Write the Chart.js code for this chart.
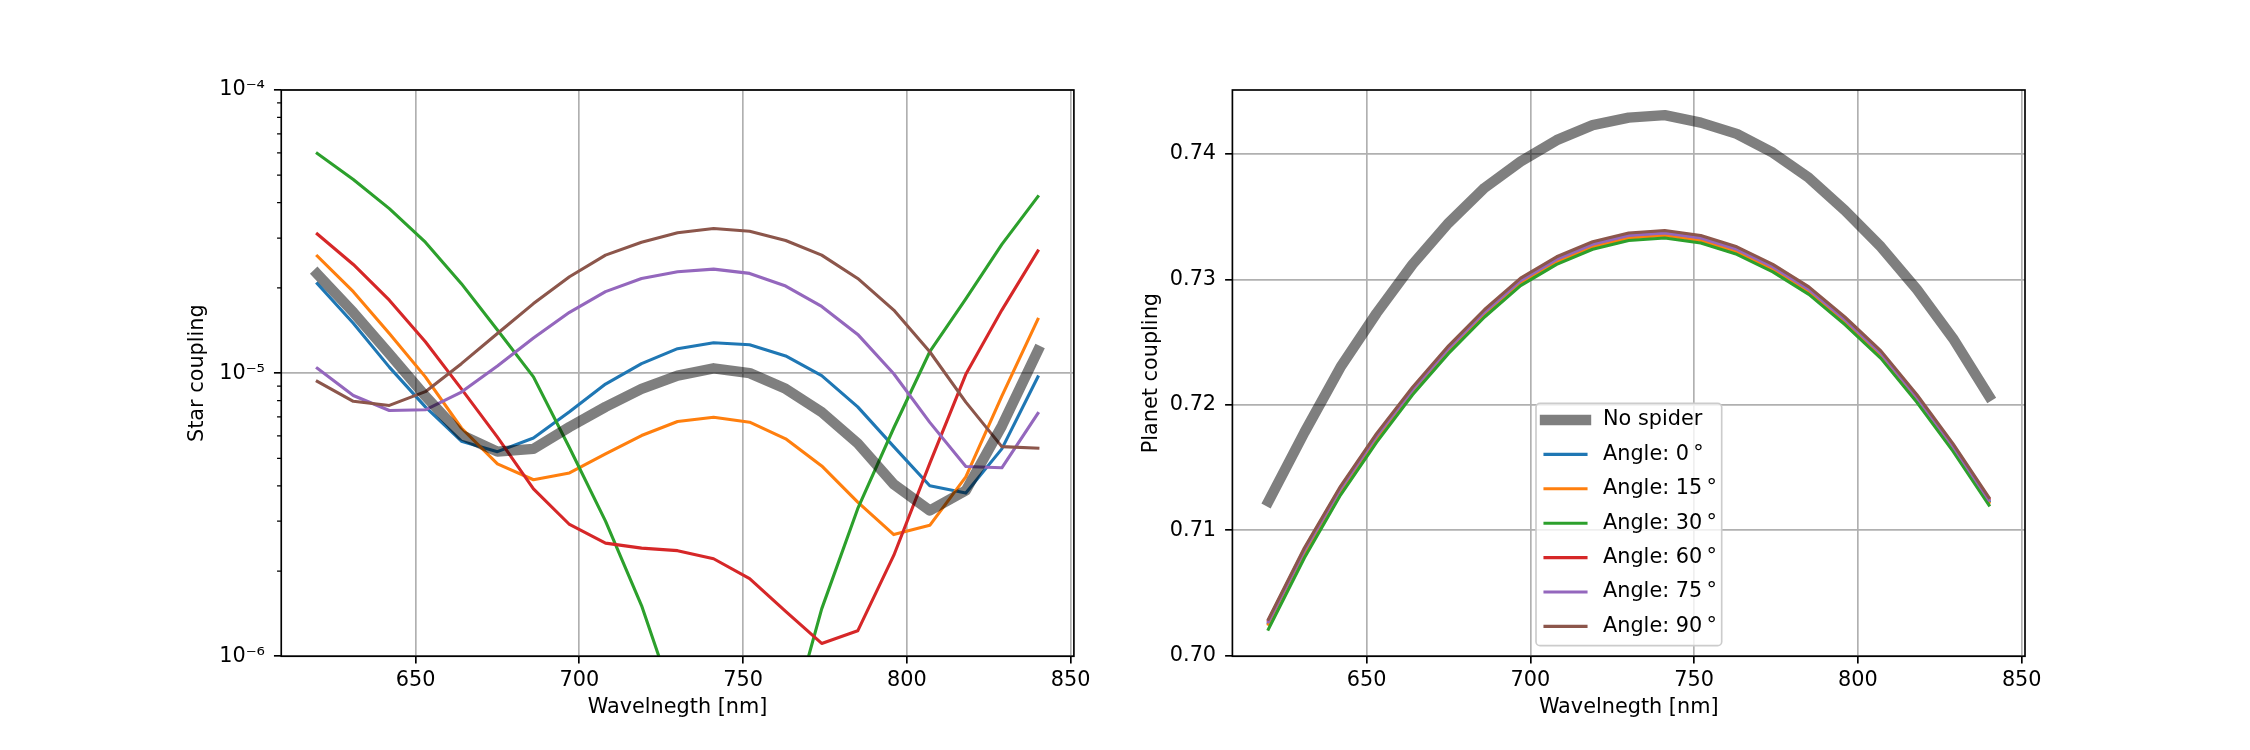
<!DOCTYPE html>
<html>
<head>
<meta charset="utf-8">
<title>Star and planet coupling</title>
<script src="https://cdn.jsdelivr.net/npm/chart.js@4.4.1/dist/chart.umd.min.js"></script>
<style>
    html, body { margin: 0; padding: 0; background: #ffffff; }
    body { width: 2250px; height: 750px; position: relative; overflow: hidden; }
    canvas { position: absolute; top: 0; }
    #starChart { left: 0; width: 1100px; height: 750px; }
    #planetChart { left: 1100px; width: 1150px; height: 750px; }
</style>
</head>
<body>
<canvas id="starChart" width="1100" height="750"></canvas>
<canvas id="planetChart" width="1150" height="750"></canvas>
<script>
// Wavelength grid shared by both panels (nm)
const wavelength = [620, 631, 642, 653, 664, 675, 686, 697, 708, 719, 730, 741, 752, 763, 774, 785, 796, 807, 818, 829, 840];

// Star coupling (left panel, log scale)
const starNoSpider = [2.24e-5, 1.64e-5, 1.17e-5, 8.3e-6, 6.05e-6, 5.28e-6, 5.4e-6, 6.45e-6, 7.6e-6, 8.8e-6, 9.8e-6, 1.04e-5, 1.0e-5, 8.8e-6, 7.28e-6, 5.65e-6, 4.05e-6, 3.27e-6, 3.85e-6, 6.5e-6, 1.2e-5];
const starAngle0 = [2.07e-5, 1.5e-5, 1.05e-5, 7.6e-6, 5.75e-6, 5.28e-6, 5.9e-6, 7.3e-6, 9.15e-6, 1.08e-5, 1.22e-5, 1.28e-5, 1.26e-5, 1.15e-5, 9.8e-6, 7.6e-6, 5.5e-6, 4.0e-6, 3.77e-6, 5.4e-6, 9.7e-6];
const starAngle15 = [2.59e-5, 1.94e-5, 1.38e-5, 9.7e-6, 6.4e-6, 4.78e-6, 4.2e-6, 4.44e-6, 5.19e-6, 6.02e-6, 6.75e-6, 6.98e-6, 6.71e-6, 5.86e-6, 4.7e-6, 3.5e-6, 2.69e-6, 2.9e-6, 4.3e-6, 8.3e-6, 1.55e-5];
const starAngle30 = [5.97e-5, 4.83e-5, 3.81e-5, 2.9e-5, 2.07e-5, 1.42e-5, 9.7e-6, 5.45e-6, 3.0e-6, 1.51e-6, 6.4e-7, 4.0e-7, 3.5e-7, 5.1e-7, 1.47e-6, 3.32e-6, 6.4e-6, 1.19e-5, 1.83e-5, 2.85e-5, 4.2e-5];
const starAngle60 = [3.1e-5, 2.42e-5, 1.81e-5, 1.29e-5, 8.8e-6, 5.94e-6, 3.9e-6, 2.92e-6, 2.51e-6, 2.41e-6, 2.36e-6, 2.21e-6, 1.88e-6, 1.44e-6, 1.11e-6, 1.23e-6, 2.27e-6, 4.8e-6, 9.9e-6, 1.67e-5, 2.7e-5];
const starAngle75 = [1.04e-5, 8.34e-6, 7.38e-6, 7.42e-6, 8.57e-6, 1.06e-5, 1.33e-5, 1.64e-5, 1.94e-5, 2.16e-5, 2.28e-5, 2.33e-5, 2.25e-5, 2.03e-5, 1.72e-5, 1.37e-5, 9.95e-6, 6.7e-6, 4.68e-6, 4.63e-6, 7.2e-6];
const starAngle90 = [9.35e-6, 7.95e-6, 7.69e-6, 8.6e-6, 1.08e-5, 1.38e-5, 1.76e-5, 2.19e-5, 2.61e-5, 2.9e-5, 3.13e-5, 3.24e-5, 3.17e-5, 2.94e-5, 2.61e-5, 2.16e-5, 1.67e-5, 1.19e-5, 7.9e-6, 5.5e-6, 5.43e-6];

// Planet coupling (right panel, linear scale)
const planetNoSpider = [0.7123, 0.7178, 0.7230, 0.7273, 0.7312, 0.7345, 0.7373, 0.7394, 0.7411, 0.7423, 0.7429, 0.7431, 0.7425, 0.7416, 0.7401, 0.7381, 0.7355, 0.7326, 0.7292, 0.7253, 0.7207];
const planetAngle0 = [0.7026, 0.7083, 0.7132, 0.7174, 0.7211, 0.7244, 0.7273, 0.7298, 0.7315, 0.7327, 0.7334, 0.7336, 0.7332, 0.7323, 0.7309, 0.7291, 0.7267, 0.7240, 0.7205, 0.7166, 0.7123];
const planetAngle15 = [0.7025, 0.7082, 0.7131, 0.7173, 0.7210, 0.7243, 0.7272, 0.7297, 0.7314, 0.7326, 0.7333, 0.7335, 0.7331, 0.7322, 0.7308, 0.7290, 0.7266, 0.7239, 0.7204, 0.7165, 0.7122];
const planetAngle30 = [0.7021, 0.7078, 0.7128, 0.7170, 0.7208, 0.7241, 0.7270, 0.7295, 0.7312, 0.7324, 0.7331, 0.7333, 0.7329, 0.7320, 0.7306, 0.7288, 0.7264, 0.7237, 0.7202, 0.7163, 0.7120];
const planetAngle60 = [0.7028, 0.7085, 0.7134, 0.7176, 0.7213, 0.7246, 0.7275, 0.7300, 0.7317, 0.7329, 0.7336, 0.7338, 0.7334, 0.7325, 0.7311, 0.7293, 0.7269, 0.7242, 0.7207, 0.7168, 0.7125];
const planetAngle75 = [0.7027, 0.7084, 0.7133, 0.7175, 0.7212, 0.7245, 0.7274, 0.7299, 0.7316, 0.7328, 0.7335, 0.7337, 0.7333, 0.7324, 0.7310, 0.7292, 0.7268, 0.7241, 0.7206, 0.7167, 0.7124];
const planetAngle90 = [0.7029, 0.7086, 0.7135, 0.7177, 0.7214, 0.7247, 0.7276, 0.7301, 0.7318, 0.7330, 0.7337, 0.7339, 0.7335, 0.7326, 0.7312, 0.7294, 0.7270, 0.7243, 0.7208, 0.7169, 0.7126];

// Labels, colours and ticks
const noSpiderLabel = 'No spider';
const angleLabels = ['Angle: 0\u2009°', 'Angle: 15\u2009°', 'Angle: 30\u2009°', 'Angle: 60\u2009°', 'Angle: 75\u2009°', 'Angle: 90\u2009°'];
const angleColors = ['#1f77b4', '#ff7f0e', '#2ca02c', '#d62728', '#9467bd', '#8c564b'];
const xTicks = [650, 700, 750, 800, 850];
const starTicks = [1e-6, 1e-5, 1e-4];
const starTickLabels = ['10⁻⁶', '10⁻⁵', '10⁻⁴'];
const starMinorTicks = [2e-6, 3e-6, 4e-6, 5e-6, 6e-6, 7e-6, 8e-6, 9e-6, 2e-5, 3e-5, 4e-5, 5e-5, 6e-5, 7e-5, 8e-5, 9e-5];
const planetTicks = [0.70, 0.71, 0.72, 0.73, 0.74];
const planetTickLabels = ['0.70', '0.71', '0.72', '0.73', '0.74'];

const FONT_SIZE = 20.8;
Chart.defaults.font.family = "'DejaVu Sans', sans-serif";
Chart.defaults.font.size = FONT_SIZE;
Chart.defaults.color = '#000000';

function toPoints(values) {
    return wavelength.map((w, i) => ({ x: w, y: values[i] }));
}

// Gray reference line goes on top (order 0), then brown ... blue like matplotlib
function buildDatasets(noSpider, angleSeries) {
    const sets = [{
        label: noSpiderLabel,
        data: toPoints(noSpider),
        borderColor: 'rgba(0, 0, 0, 0.5)',
        borderWidth: 10.4,
        order: 0
    }];
    angleSeries.forEach((values, i) => {
        sets.push({
            label: angleLabels[i],
            data: toPoints(values),
            borderColor: angleColors[i],
            borderWidth: 3.1,
            order: angleSeries.length - i
        });
    });
    return sets;
}

// Box around the plot area plus optional minor ticks on the log axis
const framePlugin = {
    id: 'frame',
    afterDraw(chart, args, opts) {
        const { ctx, chartArea: a } = chart;
        ctx.save();
        if (opts.minorTicks) {
            const yScale = chart.scales.y;
            ctx.strokeStyle = '#000000';
            ctx.lineWidth = 1.25;
            ctx.beginPath();
            opts.minorTicks.forEach(v => {
                const py = yScale.getPixelForValue(v);
                ctx.moveTo(a.left - 4.2, py);
                ctx.lineTo(a.left, py);
            });
            ctx.stroke();
        }
        ctx.strokeStyle = '#000000';
        ctx.lineWidth = 1.67;
        ctx.strokeRect(a.left, a.top, a.right - a.left, a.bottom - a.top);
        ctx.restore();
    }
};

// Matplotlib-style legend box inside the plot area
const boxLegendPlugin = {
    id: 'boxLegend',
    afterDraw(chart, args, opts) {
        if (!opts.show) return;
        const { ctx, chartArea: a } = chart;
        const x = a.left + opts.dx;
        const y = a.top + opts.dy;
        ctx.save();
        ctx.beginPath();
        ctx.roundRect(x, y, opts.width, opts.height, 4);
        ctx.fillStyle = 'rgba(255, 255, 255, 0.8)';
        ctx.fill();
        ctx.strokeStyle = '#cccccc';
        ctx.lineWidth = 1.67;
        ctx.stroke();

        ctx.font = FONT_SIZE + "px 'DejaVu Sans', sans-serif";
        ctx.textBaseline = 'middle';
        ctx.textAlign = 'left';
        chart.data.datasets.forEach((ds, i) => {
            const cy = y + opts.firstRow + i * opts.rowStep;
            ctx.beginPath();
            ctx.strokeStyle = ds.borderColor;
            ctx.lineWidth = ds.borderWidth;
            ctx.lineCap = 'square';
            ctx.moveTo(x + 9, cy);
            ctx.lineTo(x + 50, cy);
            ctx.stroke();
            ctx.fillStyle = '#000000';
            ctx.fillText(ds.label, x + 67, cy);
        });
        ctx.restore();
    }
};

function baseOptions(cfg) {
    return {
        responsive: false,
        animation: false,
        devicePixelRatio: 1,
        layout: { padding: cfg.padding },
        elements: {
            line: { tension: 0, borderCapStyle: 'square', borderJoinStyle: 'round', fill: false },
            point: { radius: 0, hoverRadius: 0 }
        },
        plugins: {
            legend: { display: false },
            tooltip: { enabled: false },
            frame: { minorTicks: cfg.minorTicks || null },
            boxLegend: cfg.legend || { show: false }
        },
        scales: {
            x: {
                type: 'linear',
                min: 609,
                max: 851,
                afterBuildTicks: s => { s.ticks = xTicks.map(v => ({ value: v })); },
                afterFit: s => { s.height = 68; },
                border: { display: false },
                grid: { color: '#b0b0b0', lineWidth: 1.67, tickColor: '#000000', tickWidth: 1.67, tickLength: 7.3 },
                ticks: { padding: 5, maxRotation: 0, autoSkip: false, callback: v => String(v) },
                title: { display: true, text: 'Wavelnegth [nm]', padding: { top: 4, bottom: 4 } }
            },
            y: {
                type: cfg.yType,
                min: cfg.yMin,
                max: cfg.yMax,
                afterBuildTicks: s => { s.ticks = cfg.yTicks.map(v => ({ value: v })); },
                afterFit: s => { s.width = cfg.yWidth; },
                border: { display: false },
                grid: { color: '#b0b0b0', lineWidth: 1.67, tickColor: '#000000', tickWidth: 1.67, tickLength: 7.3 },
                ticks: {
                    padding: 9,
                    autoSkip: false,
                    callback: v => {
                        const idx = cfg.yTicks.findIndex(t => Math.abs(t - v) < t * 1e-6);
                        return idx >= 0 ? cfg.yTickLabels[idx] : '';
                    }
                },
                title: { display: true, text: cfg.yTitle, padding: { top: 4, bottom: 4 } }
            }
        }
    };
}

// Left panel: star coupling
new Chart(document.getElementById('starChart'), {
    type: 'line',
    data: {
        datasets: buildDatasets(starNoSpider, [starAngle0, starAngle15, starAngle30, starAngle60, starAngle75, starAngle90])
    },
    options: baseOptions({
        padding: { left: 181.25, right: 26.1, top: 90, bottom: 25.75 },
        yType: 'logarithmic',
        yMin: 1e-6,
        yMax: 1e-4,
        yTicks: starTicks,
        yTickLabels: starTickLabels,
        yWidth: 100,
        yTitle: 'Star coupling',
        minorTicks: starMinorTicks
    }),
    plugins: [framePlugin, boxLegendPlugin]
});

// Right panel: planet coupling
new Chart(document.getElementById('planetChart'), {
    type: 'line',
    data: {
        datasets: buildDatasets(planetNoSpider, [planetAngle0, planetAngle15, planetAngle30, planetAngle60, planetAngle75, planetAngle90])
    },
    options: baseOptions({
        padding: { left: 35, right: 225, top: 90, bottom: 25.75 },
        yType: 'linear',
        yMin: 0.69995,
        yMax: 0.7451,
        yTicks: planetTicks,
        yTickLabels: planetTickLabels,
        yWidth: 97.4,
        yTitle: 'Planet coupling',
        legend: { show: true, dx: 303.6, dy: 313.3, width: 185.7, height: 242.4, firstRow: 16.7, rowStep: 34.4 }
    }),
    plugins: [framePlugin, boxLegendPlugin]
});
</script>
</body>
</html>
